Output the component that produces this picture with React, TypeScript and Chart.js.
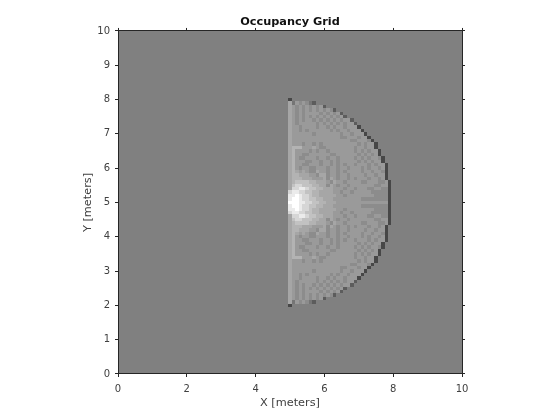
import React, { useEffect, useRef } from "react";
import { Chart, registerables } from "chart.js";

Chart.register(...registerables);

const levelKeys = ["a", "b", "c", "m", "n", "p", "q", "r", "s", "t", "w"];
const levelValues = [0.28, 0.36, 0.46, 0.55, 0.605, 0.65, 0.7, 0.76, 0.84, 0.92, 1.0];
const unknownValue = 0.5;
const gridStartX = 5.0;
const gridStartY = 8.0;
const xTicksStep = 2;
const yTicksStep = 1;

// Occupancy cells, one string per row from y=8.0 down to y=2.0, from x=5.0 rightwards.
const gridRows = [
  "a",
  "pcnmn mcb",
  "pnmnm nmnmn b",
  "pnmnm nmnmn mnmb",
  "pnmnm nnnnm nmnmn b",
  "pnmnm nmnmn mnmnm nb",
  "pnmnm nnmnm nmnmn mnnb",
  "pnmnn nnnmn mnmnm nmnnb",
  "pnnmn nnnmn nmnmn nmnnn a",
  "pnnmn mnnnn nnmnm nnmnn na",
  "pnnnn nnmnn nnnnn mnnmn nna",
  "pnnnn nnnnn nnnnn mmnnn mnna",
  "pnnnn nnnnn nnnnn nnnmm nnnma",
  "pnnnm nnmnm nnnnn nnnnn mnmnn a",
  "pqqqn nnpnm mnnnn nnnnm nnmnn a",
  "pqnnn nmnmn nmnnn nnnnm nmnmn na",
  "pqnnm mnnnn nnmmn nnnnn mnmnm na",
  "pqnmm nnnmn nmnnm nnnnm nmnmn nma",
  "pqnnn mmnnm nnmnm nnnnn mnmnm nna",
  "pqnnm mnnnm nnmnm nmnnm nnnmn mnna",
  "pqnmn nmmnn nmnnm nnmnn nmnmn nmna",
  "pqpnp nmmpn nmnnm nmnnn nmnnm nnma",
  "pqqpp pnnmp pmnnm nnmnn nnmnn mnna",
  "pqqqp ppnnn pmpnm nnmnm nnnmn nmna",
  "pqrrr rqqpp pnmpn nmnnn nmmnn nmmna",
  "prssr rrqqp pmpnm nnmnn nnnnn mmnna",
  "psstt srrqq pppnn nmnnm nnnmm nnmma",
  "sttss rrqqp pppnn mnnmn nnnnm mmmma",
  "ttwts srqqp ppppn nmnnn nnnnn mmmma",
  "twwts srrqq pppnn nnnnn nmmmm mmmma",
  "wwwtt ssrrq qpppn nnnnn nnnnn nnnna",
  "twwts srrqq pppnn nnnnn nmmmm mmmma",
  "ttwts srqqp ppppn nmnnn nnnnn mmmma",
  "sttss rrqqp pppnn mnnmn nnnnm mmmma",
  "psstt srrqq pppnn nmnnm nnnmm nnmma",
  "prssr rrqqp pmpnm nnmnn nnnnn mmnna",
  "pqrrr rqqpp pnmpn nmnnn nmmnn nmmna",
  "pqqqp ppnnn pmpnm nnmnm nnnmn nmna",
  "pqqpp pnnmp pmnnm nnmnn nnmnn mnna",
  "pqpnp nmmpn nmnnm nmnnn nmnnm nnma",
  "pqnmn nmmnn nmnnm nnmnn nmnmn nmna",
  "pqnnm mnnnm nnmnm nmnnm nnnmn mnna",
  "pqnnn mmnnm nnmnm nnnnn mnmnm nna",
  "pqnmm nnnmn nmnnm nnnnm nmnmn nma",
  "pqnnm mnnnn nnmmn nnnnn mnmnm na",
  "pqnnn nmnmn nmnnn nnnnm nmnmn na",
  "pqqqn nnpnm mnnnn nnnnm nnmnn a",
  "pnnnm nnmnm nnnnn nnnnn mnmnn a",
  "pnnnn nnnnn nnnnn nnnmm nnnma",
  "pnnnn nnnnn nnnnn mmnnn mnna",
  "pnnnn nnmnn nnnnn mnnmn nna",
  "pnnmn mnnnn nnmnm nnmnn na",
  "pnnmn nnnmn nmnmn nmnnn a",
  "pnmnn nnnmn mnmnm nmnnb",
  "pnmnm nnmnm nmnmn mnnb",
  "pnmnm nmnmn mnmnm nb",
  "pnmnm nnnnm nmnmn b",
  "pnmnm nmnmn mnmb",
  "pnmnm nmnmn b",
  "pcnmn mcb",
  "a",
];

type Cell = { x: number; y: number; v: number };

function buildCells(): Cell[] {
  const cells: Cell[] = [];
  const compact = gridRows.map((row) => row.replace(/ /g, ""));
  const startCol = Math.round(gridStartX * 10);
  const startRow = Math.round(gridStartY * 10);
  for (let i = 0; i <= 100; i++) {
    for (let j = 0; j <= 100; j++) {
      const r = startRow - j;
      const c = i - startCol;
      let v = unknownValue;
      if (r >= 0 && r < compact.length && c >= 0 && c < compact[r].length) {
        const idx = levelKeys.indexOf(compact[r][c]);
        if (idx >= 0) v = levelValues[idx];
      }
      cells.push({ x: i / 10, y: j / 10, v });
    }
  }
  return cells;
}

const cellPlugin = {
  id: "occupancyCells",
  beforeDatasetsDraw(chart: any) {
    const { ctx, chartArea, scales } = chart;
    const half = 0.05;
    ctx.save();
    ctx.beginPath();
    ctx.rect(chartArea.left, chartArea.top, chartArea.width, chartArea.height);
    ctx.clip();
    for (const cell of chart.data.datasets[0].data as Cell[]) {
      const x0 = Math.round(scales.x.getPixelForValue(cell.x - half));
      const x1 = Math.round(scales.x.getPixelForValue(cell.x + half));
      const y0 = Math.round(scales.y.getPixelForValue(cell.y + half));
      const y1 = Math.round(scales.y.getPixelForValue(cell.y - half));
      const g = Math.round(cell.v * 255);
      ctx.fillStyle = `rgb(${g},${g},${g})`;
      ctx.fillRect(x0, y0, x1 - x0, y1 - y0);
    }
    ctx.restore();
  },
};

const ink = "#262626";
const labelInk = "#404040";
const fontFamily = "'DejaVu Sans'";

function axis(extra: any, step: number, size: number, showLabels: boolean, horizontal: boolean) {
  return {
    type: "linear",
    min: 0,
    max: 10,
    border: { display: true, color: ink, width: 1, z: 1 },
    grid: { display: true, drawOnChartArea: false, drawTicks: true, tickLength: 3, tickColor: ink, lineWidth: 1 },
    ticks: {
      display: showLabels,
      stepSize: step,
      color: labelInk,
      padding: horizontal ? 6 : 5,
      maxRotation: 0,
      autoSkip: false,
      font: { family: fontFamily, size: 10 },
    },
    afterFit(scale: any) {
      if (horizontal) scale.height = size;
      else scale.width = size;
    },
    ...extra,
  };
}

export default function App() {
  const ref = useRef<HTMLCanvasElement | null>(null);
  useEffect(() => {
    const chart = new Chart(ref.current as HTMLCanvasElement, {
      type: "scatter",
      data: {
        datasets: [{ label: "Occupancy", data: buildCells(), pointRadius: 0, pointHoverRadius: 0 }],
      },
      plugins: [cellPlugin],
      options: {
        animation: false,
        responsive: false,
        layout: { padding: 0 },
        plugins: {
          legend: { display: false },
          tooltip: { enabled: false },
          title: {
            display: true,
            text: "Occupancy Grid",
            color: "#111111",
            fullSize: false,
            font: { family: fontFamily, size: 11.3, weight: "bold" },
            padding: { top: 15, bottom: 0 },
          },
        },
        scales: {
          x: axis(
            {
              position: "bottom",
              title: {
                display: true,
                text: "X [meters]",
                color: labelInk,
                font: { family: fontFamily, size: 11.3 },
                padding: { top: 0, bottom: 10 },
              },
            },
            xTicksStep,
            46,
            true,
            true
          ),
          x2: axis({ position: "top" }, xTicksStep, 2.4, false, true),
          y: axis(
            {
              position: "left",
              title: {
                display: true,
                text: "Y [meters]",
                color: labelInk,
                font: { family: fontFamily, size: 11.3 },
                padding: { top: 81, bottom: 0 },
              },
            },
            yTicksStep,
            118,
            true,
            false
          ),
          y2: axis({ position: "right" }, yTicksStep, 98, false, false),
        },
      } as any,
    });
    return () => chart.destroy();
  }, []);
  return (
    <div style={{ position: "fixed", left: 0, top: 0, width: 560, height: 420, background: "#fff" }}>
      <canvas ref={ref} width={560} height={420} style={{ display: "block" }} />
    </div>
  );
}
